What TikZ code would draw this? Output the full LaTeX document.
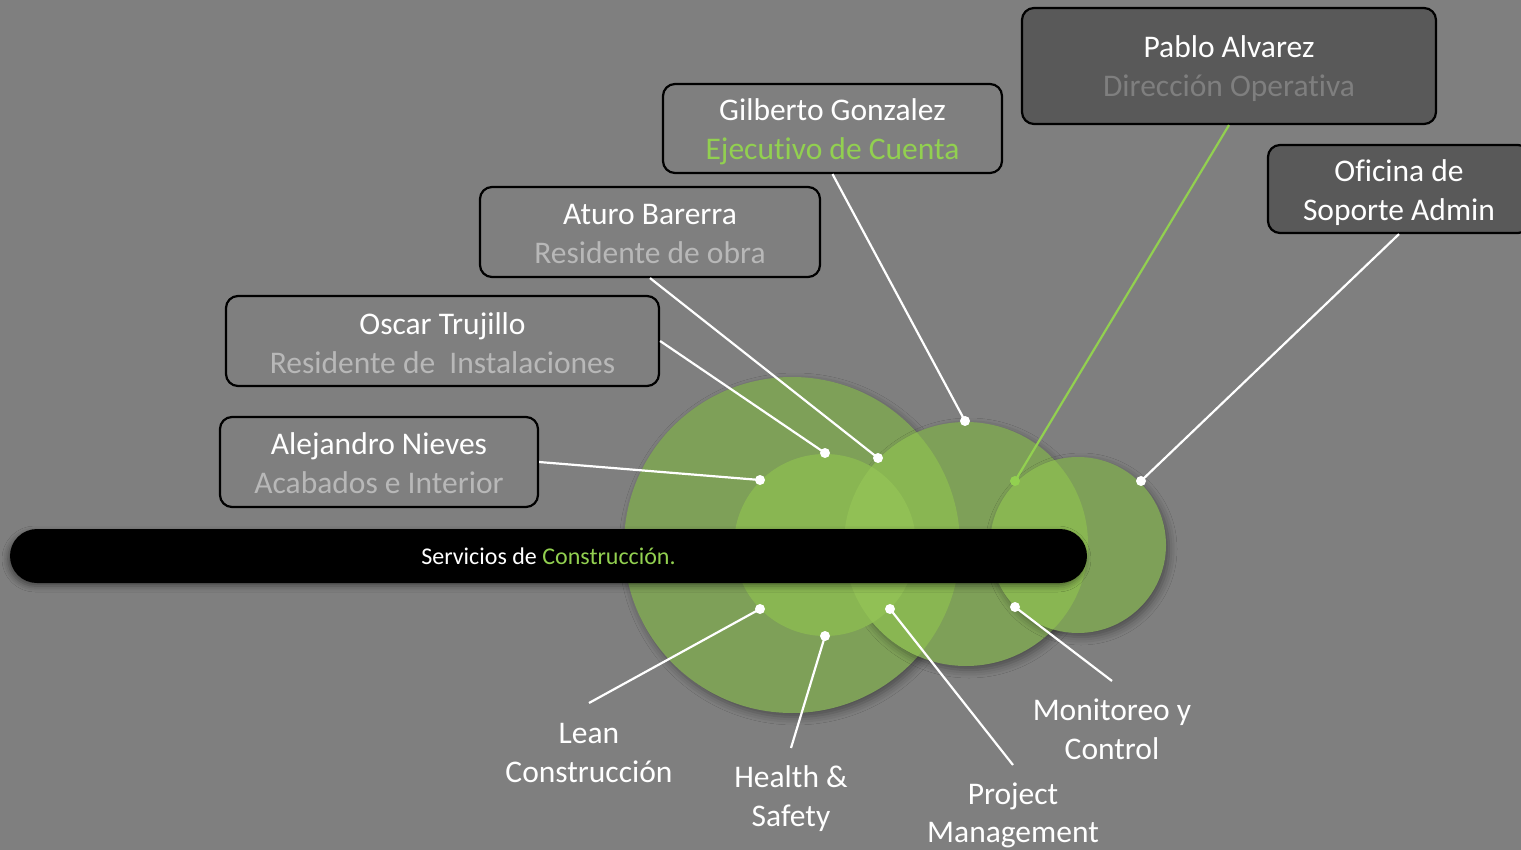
\documentclass[tikz,border=0pt]{standalone}
\usepackage{fontspec}
\setmainfont[Ligatures=NoCommon]{Carlito}
\usetikzlibrary{shadows.blur}
\definecolor{bg}{HTML}{7F7F7F}
\definecolor{boxdark}{HTML}{595959}
\definecolor{cbase}{HTML}{7EA058}
\definecolor{ctwo}{HTML}{89B652}
\definecolor{cthree}{HTML}{91C055}
\definecolor{accent}{HTML}{92D050}
\definecolor{subgray}{HTML}{B8B8B8}
\begin{document}
\begin{tikzpicture}[x=1pt,y=-1pt,
  box/.style={draw=black, line width=2.2pt, rounded corners=12pt, fill=bg, inner sep=0pt},
  darkbox/.style={box, fill=boxdark},
  boxtext/.style={align=center, inner sep=0pt, text=white, font=\fontsize{31.5}{39}\selectfont},
  dot/.style={circle, fill=white, inner sep=0pt, minimum size=10pt},
  gdot/.style={dot, fill=accent},
  conn/.style={white, line width=2.2pt},
  gconn/.style={accent, line width=2.2pt},
  lbl/.style={align=center, text=white, inner sep=0pt, font=\fontsize{31.5}{38.5}\selectfont},
  shad/.style={blur shadow={shadow xshift=3pt, shadow yshift=-4pt, shadow blur radius=8pt, shadow opacity=40}}
]
\fill[bg] (0,0) rectangle (1521,850);
\useasboundingbox (0,0) rectangle (1521,850);

% circles
\fill[cbase, shad] (792,545) circle[radius=168pt];
\fill[cbase, shad] (966,544) circle[radius=122pt];
\fill[cbase, shad] (1078,545) circle[radius=88pt];
\begin{scope}
  \clip (792,545) circle[radius=168pt];
  \fill[ctwo] (966,544) circle[radius=122pt];
\end{scope}
\fill[ctwo] (825,545) circle[radius=91pt];
\begin{scope}
  \clip (966,544) circle[radius=122pt];
  \fill[ctwo] (1078,545) circle[radius=88pt];
\end{scope}
\begin{scope}
  \clip (825,545) circle[radius=91pt];
  \fill[cthree] (966,544) circle[radius=122pt];
\end{scope}

% bar
\node[fill=black, rounded corners=27pt, minimum width=1077pt, minimum height=54pt, inner sep=0pt,
  text=white, font=\fontsize{24}{28}\selectfont,
  blur shadow={shadow xshift=-2pt, shadow yshift=-3pt, shadow blur radius=6pt, shadow opacity=45}]
  (bar) at (548.5,556) {Servicios de \textcolor{accent}{Construcción.}};

% boxes
\node[box, minimum width=339pt, minimum height=89pt] (gil) at (832.5,128.5) {};
\node[boxtext] (gilt) at ([yshift=-3.5pt]gil.center)
  {Gilberto Gonzalez\\\textcolor{accent}{Ejecutivo de Cuenta}};
\node[box, minimum width=340pt, minimum height=90pt] (atu) at (650,232) {};
\node[boxtext] (atut) at ([yshift=-2.5pt]atu.center)
  {Aturo Barerra\\\textcolor{subgray}{Residente de obra}};
\node[box, minimum width=433pt, minimum height=90pt] (osc) at (442.5,341) {};
\node[boxtext] (osct) at ([yshift=-2pt]osc.center)
  {Oscar Trujillo\\\textcolor{subgray}{Residente de\ \ Instalaciones}};
\node[box, minimum width=318pt, minimum height=90pt] (ale) at (379,462) {};
\node[boxtext] (alet) at ([yshift=-1.5pt]ale.center)
  {Alejandro Nieves\\\textcolor{subgray}{Acabados e Interior}};
\node[darkbox, minimum width=414pt, minimum height=116pt] (pab) at (1229,66) {};
\node[boxtext] (pabt) at ([yshift=-3pt]pab.center)
  {Pablo Alvarez\\\textcolor{bg}{Dirección Operativa}};
\node[darkbox, minimum width=262pt, minimum height=88pt] (ofi) at (1399,189) {};
\node[boxtext] (ofit) at ([yshift=-4pt]ofi.center)
  {Oficina de\\Soporte Admin};

% dots
\node[dot] (dgil) at (965,421) {};
\node[dot] (datu) at (878,458) {};
\node[dot] (dosc) at (825,453) {};
\node[dot] (dale) at (760,480) {};
\node[gdot] (dpab) at (1015,481) {};
\node[dot] (dofi) at (1141,481) {};
\node[dot] (dlean) at (760,609) {};
\node[dot] (dhea) at (825,636) {};
\node[dot] (dpro) at (890,609) {};
\node[dot] (dmon) at (1015,607) {};

% bottom labels
\node[lbl] (lean) at (589,753) {Lean\\Construcción};
\node[lbl] (hea) at (791,798.5) {Health \&\\Safety};
\node[lbl] (pro) at (1013,815.5) {Project\\Management};
\node[lbl] (mon) at (1112,729.5) {Monitoreo y\\Control};
\coordinate (elean) at (589,703);
\coordinate (ehea) at (791,748);
\coordinate (epro) at (1013,765);
\coordinate (emon) at (1112,681);

% connectors
\draw[conn] (gil.south) -- (dgil.center);
\draw[conn] (atu.south) -- (datu.center);
\draw[conn] (osc.east) -- (dosc.center);
\draw[conn] (ale.east) -- (dale.center);
\draw[gconn] (pab.south) -- (dpab.center);
\draw[conn] (ofi.south) -- (dofi.center);
\draw[conn] (dlean.center) -- (elean);
\draw[conn] (dhea.center) -- (ehea);
\draw[conn] (dpro.center) -- (epro);
\draw[conn] (dmon.center) -- (emon);
\end{tikzpicture}
\end{document}
